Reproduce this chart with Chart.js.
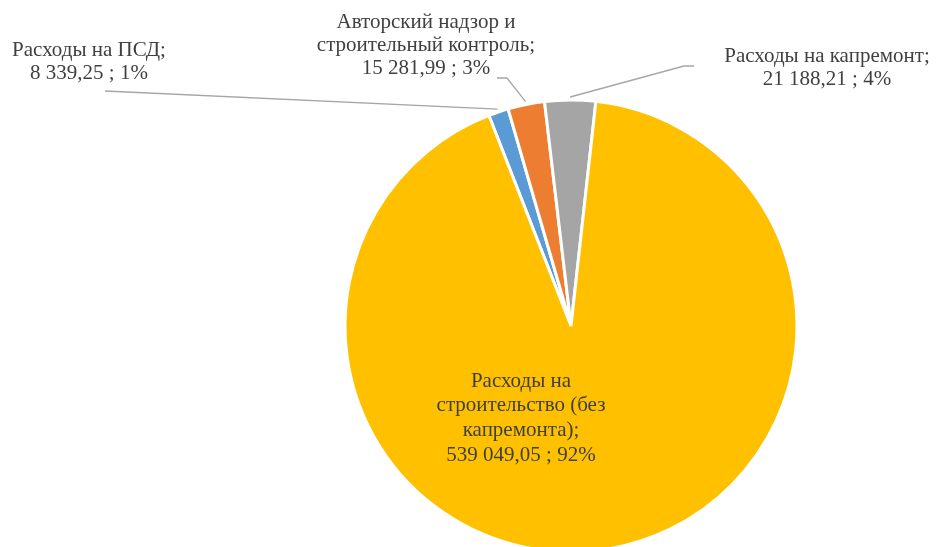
<!DOCTYPE html>
<html>
<head>
<meta charset="utf-8">
<script src="https://cdn.jsdelivr.net/npm/chart.js@4"></script>
<style>
    html, body { margin: 0; padding: 0; background: #fff; overflow: hidden; }
    .wrap { position: relative; width: 936px; height: 547px; }
</style>
</head>
<body>
<div class="wrap"><canvas id="pieChart"></canvas></div>
<script>
const categories = ['Расходы на ПСД', 'Авторский надзор и строительный контроль', 'Расходы на капремонт', 'Расходы на строительство (без капремонта)'];
const values = [8339.25, 15281.99, 21188.21, 539049.05];
const colors = ['#5B9BD5', '#ED7D31', '#A5A5A5', '#FFC000'];

// where each label sits (centre x, first line y), wrap width, and leader elbow
const labelLayout = [
    { x: 89, y: 50, wrap: 200, lead: [[105, 91]] },
    { x: 426, y: 22, wrap: 240, lead: [[497, 78], [507, 78]] },
    { x: 827, y: 56, wrap: 260, lead: [[694, 66], [684, 66]] },
    { x: 521, y: 381, wrap: 185, lead: null }
];

const fmt = v => {
    const [i, d] = v.toFixed(2).split('.');
    return i.replace(/\B(?=(\d{3})+(?!\d))/g, ' ') + ',' + d;
};
const total = values.reduce((a, b) => a + b, 0);

const wrapText = (ctx, text, maxW) => {
    const words = text.split(' ');
    const lines = [];
    let cur = '';
    words.forEach(w => {
        const t = cur ? cur + ' ' + w : w;
        if (cur && ctx.measureText(t).width > maxW) { lines.push(cur); cur = w; }
        else cur = t;
    });
    if (cur) lines.push(cur);
    return lines;
};

const pieLabels = {
    id: 'pieLabels',
    afterDatasetsDraw(chart) {
        const ctx = chart.ctx;
        const arcs = chart.getDatasetMeta(0).data;
        ctx.save();
        ctx.font = '21px "Liberation Serif", "Times New Roman", serif';
        ctx.textAlign = 'center';
        ctx.textBaseline = 'middle';
        arcs.forEach((arc, i) => {
            const L = labelLayout[i];
            if (L.lead) {
                const mid = (arc.startAngle + arc.endAngle) / 2;
                const r = arc.outerRadius + 3;
                ctx.beginPath();
                ctx.strokeStyle = '#A6A6A6';
                ctx.lineWidth = 1.3;
                ctx.moveTo(L.lead[0][0], L.lead[0][1]);
                L.lead.slice(1).forEach(p => ctx.lineTo(p[0], p[1]));
                ctx.lineTo(arc.x + Math.cos(mid) * r, arc.y + Math.sin(mid) * r);
                ctx.stroke();
            }
            const lines = wrapText(ctx, categories[i] + ';', L.wrap);
            lines.push(fmt(values[i]) + ' ; ' + Math.round(values[i] / total * 100) + '%');
            ctx.fillStyle = '#404040';
            lines.forEach((ln, k) => ctx.fillText(ln, L.x, L.y + k * (i === 3 ? 24.7 : 23)));
        });
        ctx.restore();
    }
};

new Chart(document.getElementById('pieChart'), {
    type: 'pie',
    data: {
        labels: categories,
        datasets: [{
            data: values,
            backgroundColor: colors,
            borderColor: '#ffffff',
            borderWidth: 3,
            hoverOffset: 0,
            radius: 226
        }]
    },
    options: {
        responsive: true,
        maintainAspectRatio: false,
        animation: false,
        rotation: -21.3,
        layout: { padding: { left: 345, right: 139, top: 105, bottom: 0 } },
        plugins: { legend: { display: false }, tooltip: { enabled: false } }
    },
    plugins: [pieLabels]
});
</script>
</body>
</html>
